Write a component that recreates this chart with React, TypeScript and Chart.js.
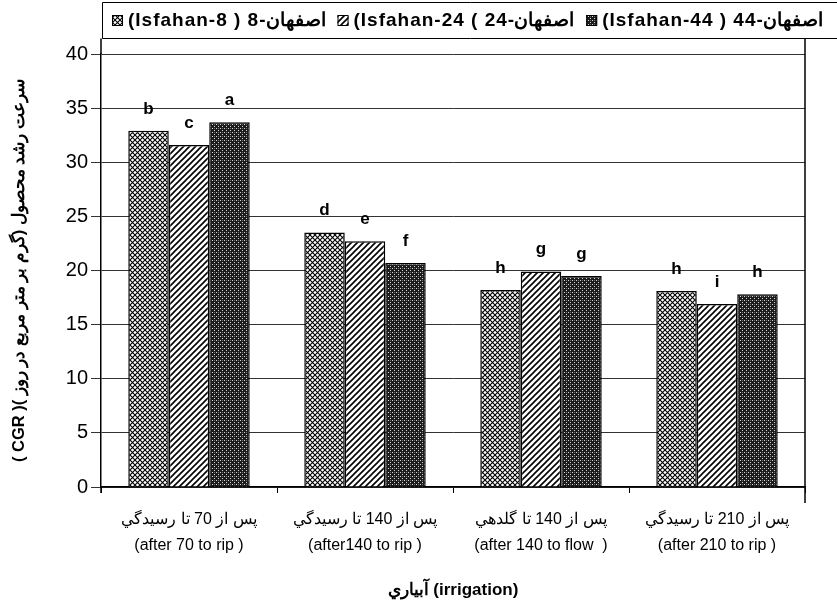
import React, { useEffect, useRef } from "react";
import { Chart, registerables } from "chart.js";

Chart.register(...registerables);

const categories: string[][] = [
  ["پس از 70 تا رسيدگي", "(after 70 to rip )"],
  ["پس از 140 تا رسيدگي", "(after140 to rip )"],
  ["پس از 140 تا گلدهي", "(after 140 to flow  )"],
  ["پس از 210 تا رسيدگي", "(after 210 to rip )"],
];

const seriesLabels = [
  "(Isfahan-8 ) اصفهان-8",
  "(Isfahan-24 ( اصفهان-24",
  "(Isfahan-44 ) اصفهان-44",
];

const isfahan8 = [32.9, 23.5, 18.2, 18.1];
const isfahan24 = [31.6, 22.7, 19.9, 16.9];
const isfahan44 = [33.7, 20.7, 19.5, 17.8];

const letters8 = ["b", "d", "h", "h"];
const letters24 = ["c", "e", "g", "i"];
const letters44 = ["a", "f", "g", "h"];

const yTicks = [0, 5, 10, 15, 20, 25, 30, 35, 40];

const yTitle = "( CGR )( سرعت رشد محصول (گرم بر متر مربع در روز";
const xTitle = "آبياري (irrigation)";

const FONT = "'Liberation Sans', Arial, sans-serif";

function makePattern(kind: number): CanvasPattern | string {
  const c = document.createElement("canvas");
  const size = kind === 2 ? 4 : kind === 0 ? 5 : 6;
  c.width = size;
  c.height = size;
  const g = c.getContext("2d");
  if (!g) return "#888";
  if (kind === 0) {
    g.fillStyle = "#ffffff";
    g.fillRect(0, 0, size, size);
    g.strokeStyle = "#000";
    g.lineWidth = 1.1;
    g.beginPath();
    g.moveTo(0, 0);
    g.lineTo(size, size);
    g.moveTo(0, size);
    g.lineTo(size, 0);
    g.stroke();
  } else if (kind === 1) {
    g.fillStyle = "#ffffff";
    g.fillRect(0, 0, size, size);
    g.strokeStyle = "#000";
    g.lineWidth = 1.6;
    g.beginPath();
    g.moveTo(-1, size + 1);
    g.lineTo(size + 1, -1);
    g.moveTo(-1, 1);
    g.lineTo(1, -1);
    g.moveTo(size - 1, size + 1);
    g.lineTo(size + 1, size - 1);
    g.stroke();
  } else {
    g.fillStyle = "#1c1c1c";
    g.fillRect(0, 0, size, size);
    g.fillStyle = "#d8d8d8";
    g.fillRect(0, 0, 1, 1);
    g.fillRect(2, 2, 1, 1);
    g.fillStyle = "#6a6a6a";
    g.fillRect(2, 0, 1, 1);
  }
  return g.createPattern(c, "repeat") || "#888";
}

const decorPlugin = {
  id: "decor",
  afterDatasetsDraw(chart: any) {
    const ctx = chart.ctx;
    const letterSets = [letters8, letters24, letters44];
    ctx.save();
    ctx.fillStyle = "#000";
    ctx.font = `bold 17px ${FONT}`;
    ctx.textAlign = "center";
    ctx.textBaseline = "middle";
    letterSets.forEach((letters, di) => {
      const meta = chart.getDatasetMeta(di);
      meta.data.forEach((bar: any, i: number) => {
        ctx.fillText(letters[i], bar.x, bar.y - 22);
      });
    });
    ctx.restore();
  },
  afterDraw(chart: any) {
    const ctx = chart.ctx;
    const area = chart.chartArea;
    ctx.save();
    // legend box
    const boxTop = 2.5;
    const boxBottom = 38.5;
    ctx.strokeStyle = "#000";
    ctx.lineWidth = 1;
    ctx.beginPath();
    ctx.moveTo(chart.width + 2, boxTop);
    ctx.lineTo(102.5, boxTop);
    ctx.lineTo(102.5, boxBottom);
    ctx.lineTo(chart.width + 2, boxBottom);
    ctx.stroke();
    // legend items
    ctx.font = `bold 19px ${FONT}`;
    try {
      (ctx as any).letterSpacing = "1px";
    } catch (e) {}
    ctx.textBaseline = "middle";
    ctx.textAlign = "left";
    let x = 112;
    const cy = 20;
    chart.data.datasets.forEach((ds: any) => {
      ctx.fillStyle = ds.backgroundColor;
      ctx.fillRect(x, cy - 5, 11, 11);
      ctx.strokeStyle = "#000";
      ctx.lineWidth = 1;
      ctx.strokeRect(x + 0.5, cy - 4.5, 10, 10);
      ctx.fillStyle = "#000";
      ctx.fillText(ds.label, x + 16, cy + 1);
      x += 16 + ctx.measureText(ds.label).width + 12;
    });
    try {
      (ctx as any).letterSpacing = "0px";
    } catch (e) {}
    // right frame line and left axis extension
    ctx.lineWidth = 1.5;
    ctx.beginPath();
    ctx.moveTo(area.right, boxBottom);
    ctx.lineTo(area.right, area.bottom + 16);
    ctx.moveTo(area.left, boxBottom);
    ctx.lineTo(area.left, area.top);
    ctx.moveTo(area.left, area.bottom);
    ctx.lineTo(area.left, area.bottom + 6);
    ctx.stroke();
    ctx.restore();
  },
};

export default function App() {
  const ref = useRef<HTMLCanvasElement | null>(null);

  useEffect(() => {
    if (!ref.current) return;
    const p0 = makePattern(0);
    const p1 = makePattern(1);
    const p2 = makePattern(2);
    const chart = new Chart(ref.current, {
      type: "bar",
      data: {
        labels: categories,
        datasets: [
          { label: seriesLabels[0], data: isfahan8, backgroundColor: p0 as any, borderColor: "#000", borderWidth: 1.5 },
          { label: seriesLabels[1], data: isfahan24, backgroundColor: p1 as any, borderColor: "#000", borderWidth: 1.5 },
          { label: seriesLabels[2], data: isfahan44, backgroundColor: p2 as any, borderColor: "#000", borderWidth: 1.5 },
        ],
      },
      options: {
        responsive: false,
        animation: false,
        devicePixelRatio: 1,
        layout: { padding: { top: 54, left: 6, right: 32, bottom: 0 } },
        datasets: { bar: { categoryPercentage: 0.69, barPercentage: 1.0 } },
        plugins: {
          legend: { display: false },
          tooltip: { enabled: false },
        },
        scales: {
          x: {
            afterFit: (s: any) => {
              s.height = 118;
            },
            grid: {
              display: true,
              drawOnChartArea: false,
              drawTicks: true,
              tickLength: 6,
              color: "#000",
              lineWidth: 1,
              offset: true,
            },
            border: { display: true, color: "#000", width: 1.5 },
            ticks: {
              color: "#000",
              padding: 14,
              maxRotation: 0,
              autoSkip: false,
              font: { family: FONT, size: 16, lineHeight: 1.625 },
            },
            title: {
              display: true,
              text: xTitle,
              color: "#000",
              padding: { top: 4, bottom: 4 },
              font: { family: FONT, size: 17, weight: "bold", lineHeight: 1.2 },
            },
          },
          y: {
            min: 0,
            max: 40,
            afterFit: (s: any) => {
              s.width = 95;
            },
            afterBuildTicks: (s: any) => {
              s.ticks = yTicks.map((v) => ({ value: v }));
            },
            grid: {
              color: "#333",
              lineWidth: 1,
              tickLength: 10,
              drawTicks: true,
            },
            border: { display: true, color: "#000", width: 1.5 },
            ticks: {
              color: "#000",
              padding: 3,
              font: { family: FONT, size: 20 },
            },
            title: {
              display: true,
              text: yTitle,
              color: "#000",
              padding: { top: 4, bottom: 4 },
              font: { family: FONT, size: 16.5, weight: "bold", lineHeight: 1.2 },
            },
          },
        },
      },
      plugins: [decorPlugin],
    });
    return () => chart.destroy();
  }, []);

  return (
    <div style={{ position: "absolute", left: 0, top: 0, width: 837, height: 605, background: "#fff" }}>
      <canvas ref={ref} width={837} height={605} />
    </div>
  );
}
